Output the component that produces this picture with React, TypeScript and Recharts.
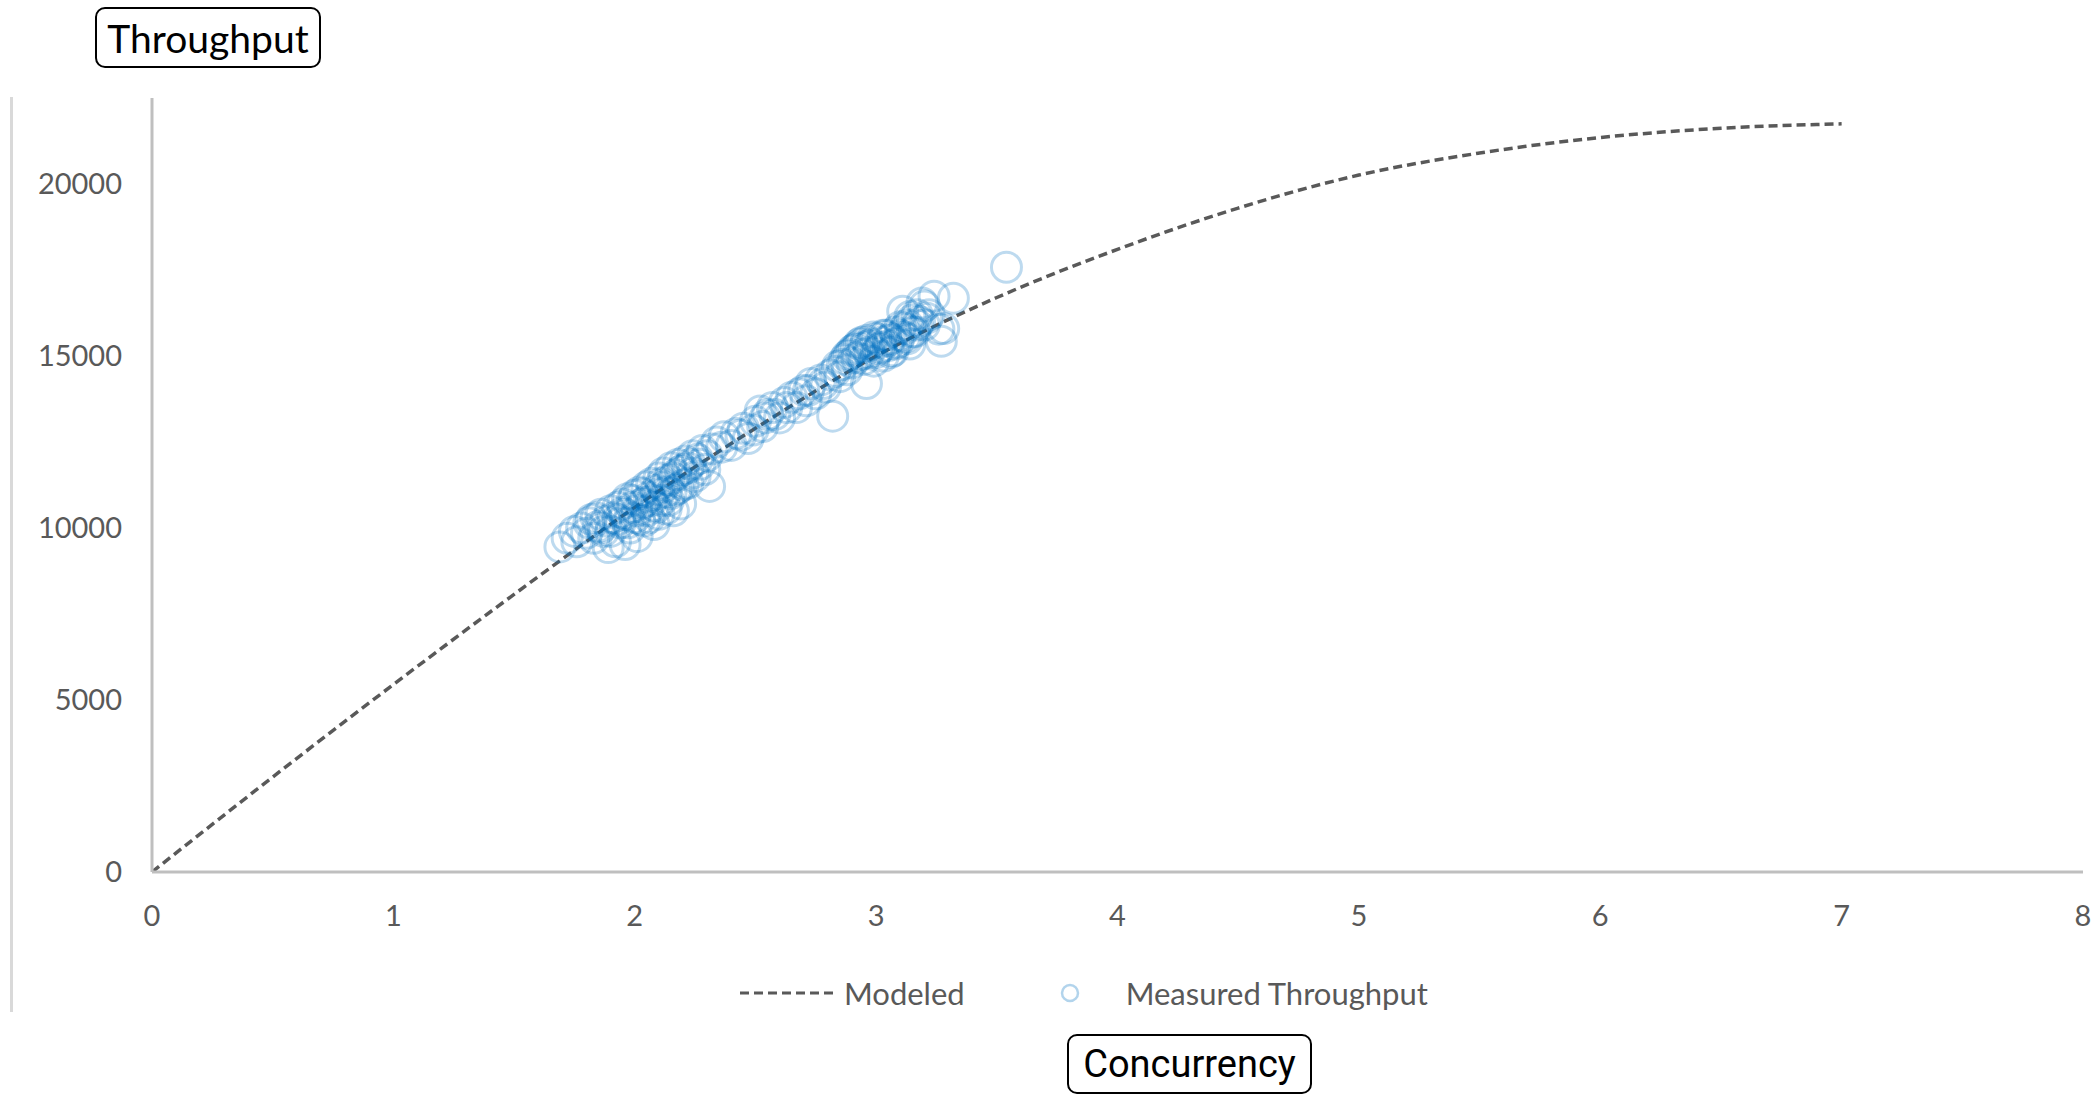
import React from 'react';
import { ComposedChart, Line, Scatter, XAxis, YAxis, Legend } from 'recharts';

// Modeled curve
const modeledX = [0, 0.5, 1, 1.5, 2, 2.5, 3, 3.5, 4, 4.5, 5, 5.5, 6, 6.5, 7];
const modeledY = [0, 2760, 5450, 8070, 10600, 12900, 15000, 16700, 18100, 19300, 20260, 20900, 21350, 21620, 21750];

// Measured throughput (concurrency, throughput)
const measuredX = [
  1.69, 1.72, 1.75, 1.76, 1.78, 1.80, 1.81, 1.83, 1.84, 1.85, 1.86, 1.87, 1.88, 1.89, 1.90, 1.91, 1.92, 1.93, 1.94, 1.95,
  1.96, 1.96, 1.97, 1.98, 1.99, 2.00, 2.00, 2.01, 2.02, 2.03, 2.04, 2.05, 2.05, 2.06, 2.07, 2.08, 2.08, 2.09, 2.10, 2.10,
  2.11, 2.12, 2.12, 2.13, 2.14, 2.15, 2.15, 2.16, 2.17, 2.18, 2.18, 2.19, 2.20, 2.21, 2.22, 2.23, 2.24, 2.25, 2.26, 2.28,
  2.29, 2.31, 2.32, 2.34,
  1.82, 1.86, 1.90, 1.93, 1.95, 1.97, 1.99, 2.01, 2.02, 2.03, 2.04, 2.06, 2.07, 2.09, 2.10, 2.11, 2.13, 2.14, 2.16, 2.17,
  2.19, 2.20, 2.22, 2.24, 2.27, 2.30,
  2.36, 2.37, 2.40, 2.42, 2.44, 2.45, 2.47, 2.49, 2.50, 2.52, 2.53, 2.54, 2.55, 2.57, 2.58, 2.60, 2.62, 2.63, 2.65, 2.67,
  2.68, 2.70, 2.71, 2.72, 2.73, 2.75,
  2.77, 2.78, 2.79, 2.81, 2.82, 2.83, 2.84, 2.85, 2.86, 2.87, 2.88, 2.88, 2.89, 2.90, 2.90, 2.91, 2.92, 2.92, 2.93, 2.94,
  2.94, 2.95, 2.95, 2.96, 2.96, 2.97, 2.97, 2.98, 2.99, 2.99, 3.00, 3.00, 3.01, 3.02, 3.02, 3.03, 3.03, 3.04, 3.05, 3.05,
  3.06, 3.06, 3.07, 3.08, 3.08, 3.09, 3.10, 3.10, 3.11, 3.12, 3.12, 3.13, 3.13, 3.14, 3.14, 3.15, 3.15, 3.16, 3.17, 3.17,
  3.18, 3.19, 3.20, 3.20, 3.21, 3.22, 3.24, 3.26, 3.27, 3.28, 3.32, 3.54,
];
const measuredY = [
  9450, 9700, 9900, 9600, 10000, 9850, 10150, 9700, 10300, 10050, 10400, 9900, 10200, 9430, 10500, 10300, 9600, 10600, 10150, 10700,
  9520, 10400, 10850, 10000, 10600, 10950, 10300, 9750, 11050, 10700, 10200, 11200, 10500, 10900, 11300, 10100, 10650, 11100, 11450, 10400,
  10800, 11600, 11200, 10550, 11400, 11750, 11000, 10500, 11550, 11850, 11150, 10700, 11700, 11950, 11300, 11850, 12100, 11500, 12000, 12250,
  11700, 11210, 12300, 12500,
  10250, 10000, 9900, 10250, 10450, 10150, 10800, 10500, 10250, 11000, 10750, 10300, 10800, 10600, 11000, 11300, 11050, 10800, 11450, 11100,
  11650, 11250, 11750, 11600, 11850, 12100,
  12350, 12650, 12400, 12750, 12700, 12900, 12600, 12850, 13100, 13400, 12950, 13200, 13300, 13500, 13300, 13200, 13650, 13500, 13800, 13500,
  13900, 14000, 13700, 14000, 14200, 13900,
  14300, 14200, 14100, 14450, 13250, 14550, 14700, 14400, 14750, 14900, 14600, 15000, 15050, 14800, 15150, 15200, 14950, 15250, 15350, 15050,
  15400, 15250, 14900, 14200, 15450, 15100, 15300, 15350, 14850, 15550, 15500, 15100, 15200, 15400, 15250, 15000, 15600, 15600, 15300, 15450,
  15500, 15100, 15150, 15700, 15350, 15400, 15850, 15600, 16300, 15550, 15800, 15900, 15500, 15350, 16150, 16050, 15700, 15700, 16200, 15900,
  16000, 16540, 15900, 16450, 16100, 16200, 16740, 15780, 15430, 15800, 16680, 17580,
];

const xTicks = [0, 1, 2, 3, 4, 5, 6, 7, 8];
const yTicks = [0, 5000, 10000, 15000, 20000];

const modeledData = modeledX.map((x, i) => ({ x, y: modeledY[i] }));
const measuredData = measuredX.map((x, i) => ({ x, y: measuredY[i] }));

const LINE_COLOR = '#595959';
const RING_COLOR = '#0070C0';

const Ring = (props: any) => (
  <circle cx={props.cx} cy={props.cy} r={15} fill="none" stroke={RING_COLOR} strokeOpacity={0.26} strokeWidth={3} />
);

const LegendContent = (props: any) => {
  const payload = props.payload || [];
  const modeled = payload.find((p: any) => p.value === 'Modeled');
  const measured = payload.find((p: any) => p.value === 'Measured Throughput');
  return (
    <div style={{ display: 'flex', alignItems: 'center', fontFamily: 'Lato, sans-serif', fontSize: 31, color: '#595959', whiteSpace: 'nowrap' }}>
      <svg width={98} height={12} style={{ display: 'block' }}>
        <line x1={0} y1={6} x2={98} y2={6} stroke={LINE_COLOR} strokeWidth={3} strokeDasharray="9 5" />
      </svg>
      <span style={{ marginLeft: 6 }}>{modeled ? modeled.value : 'Modeled'}</span>
      <svg width={24} height={24} style={{ display: 'block', marginLeft: 93 }}>
        <circle cx={12} cy={12} r={8} fill="none" stroke={RING_COLOR} strokeOpacity={0.3} strokeWidth={2.5} />
      </svg>
      <span style={{ marginLeft: 44 }}>{measured ? measured.value : 'Measured Throughput'}</span>
    </div>
  );
};

const boxStyle: React.CSSProperties = {
  position: 'absolute',
  border: '2px solid #000',
  borderRadius: 10,
  background: '#fff',
  color: '#000',
  display: 'flex',
  alignItems: 'center',
  justifyContent: 'center',
  boxSizing: 'border-box',
};

export default function App() {
  return (
    <div style={{ position: 'absolute', left: 0, top: 0, width: 2100, height: 1095, background: '#fff', overflow: 'hidden' }}>
      <div style={{ position: 'absolute', left: 10, top: 97, width: 3, height: 915, background: '#d9d9d9' }} />
      <ComposedChart width={2100} height={1095} margin={{ top: 98, right: 17, bottom: 163, left: 32 }}>
        <XAxis
          type="number"
          dataKey="x"
          domain={[0, 8]}
          ticks={xTicks}
          allowDataOverflow
          height={60}
          axisLine={{ stroke: '#bfbfbf', strokeWidth: 3 }}
          tickLine={false}
          tickSize={0}
          tickMargin={33}
          tick={{ fill: '#595959', fontSize: 29, fontFamily: 'Lato, sans-serif' }}
        />
        <YAxis
          type="number"
          dataKey="y"
          domain={[0, 22500]}
          ticks={yTicks}
          allowDataOverflow
          width={120}
          axisLine={{ stroke: '#bfbfbf', strokeWidth: 3 }}
          tickLine={false}
          tickSize={0}
          tickMargin={30}
          tick={{ fill: '#595959', fontSize: 29, fontFamily: 'Lato, sans-serif' }}
        />
        <Scatter
          name="Measured Throughput"
          data={measuredData}
          dataKey="y"
          shape={Ring}
          fill={RING_COLOR}
          isAnimationActive={false}
        />
        <Line
          name="Modeled"
          data={modeledData}
          dataKey="y"
          type="monotone"
          stroke={LINE_COLOR}
          strokeWidth={3.5}
          strokeDasharray="9 5"
          dot={false}
          activeDot={false}
          isAnimationActive={false}
        />
        <Legend
          layout="horizontal"
          verticalAlign="middle"
          align="center"
          content={<LegendContent />}
          wrapperStyle={{ position: 'absolute', top: 974, left: 740, width: 800, height: 40 }}
        />
      </ComposedChart>
      <div style={{ ...boxStyle, left: 95, top: 7, width: 226, height: 61, fontFamily: 'Lato, sans-serif', fontSize: 39 }}>
        Throughput
      </div>
      <div style={{ ...boxStyle, left: 1067, top: 1034, width: 245, height: 60, fontFamily: 'Roboto, sans-serif', fontSize: 38 }}>
        Concurrency
      </div>
    </div>
  );
}
